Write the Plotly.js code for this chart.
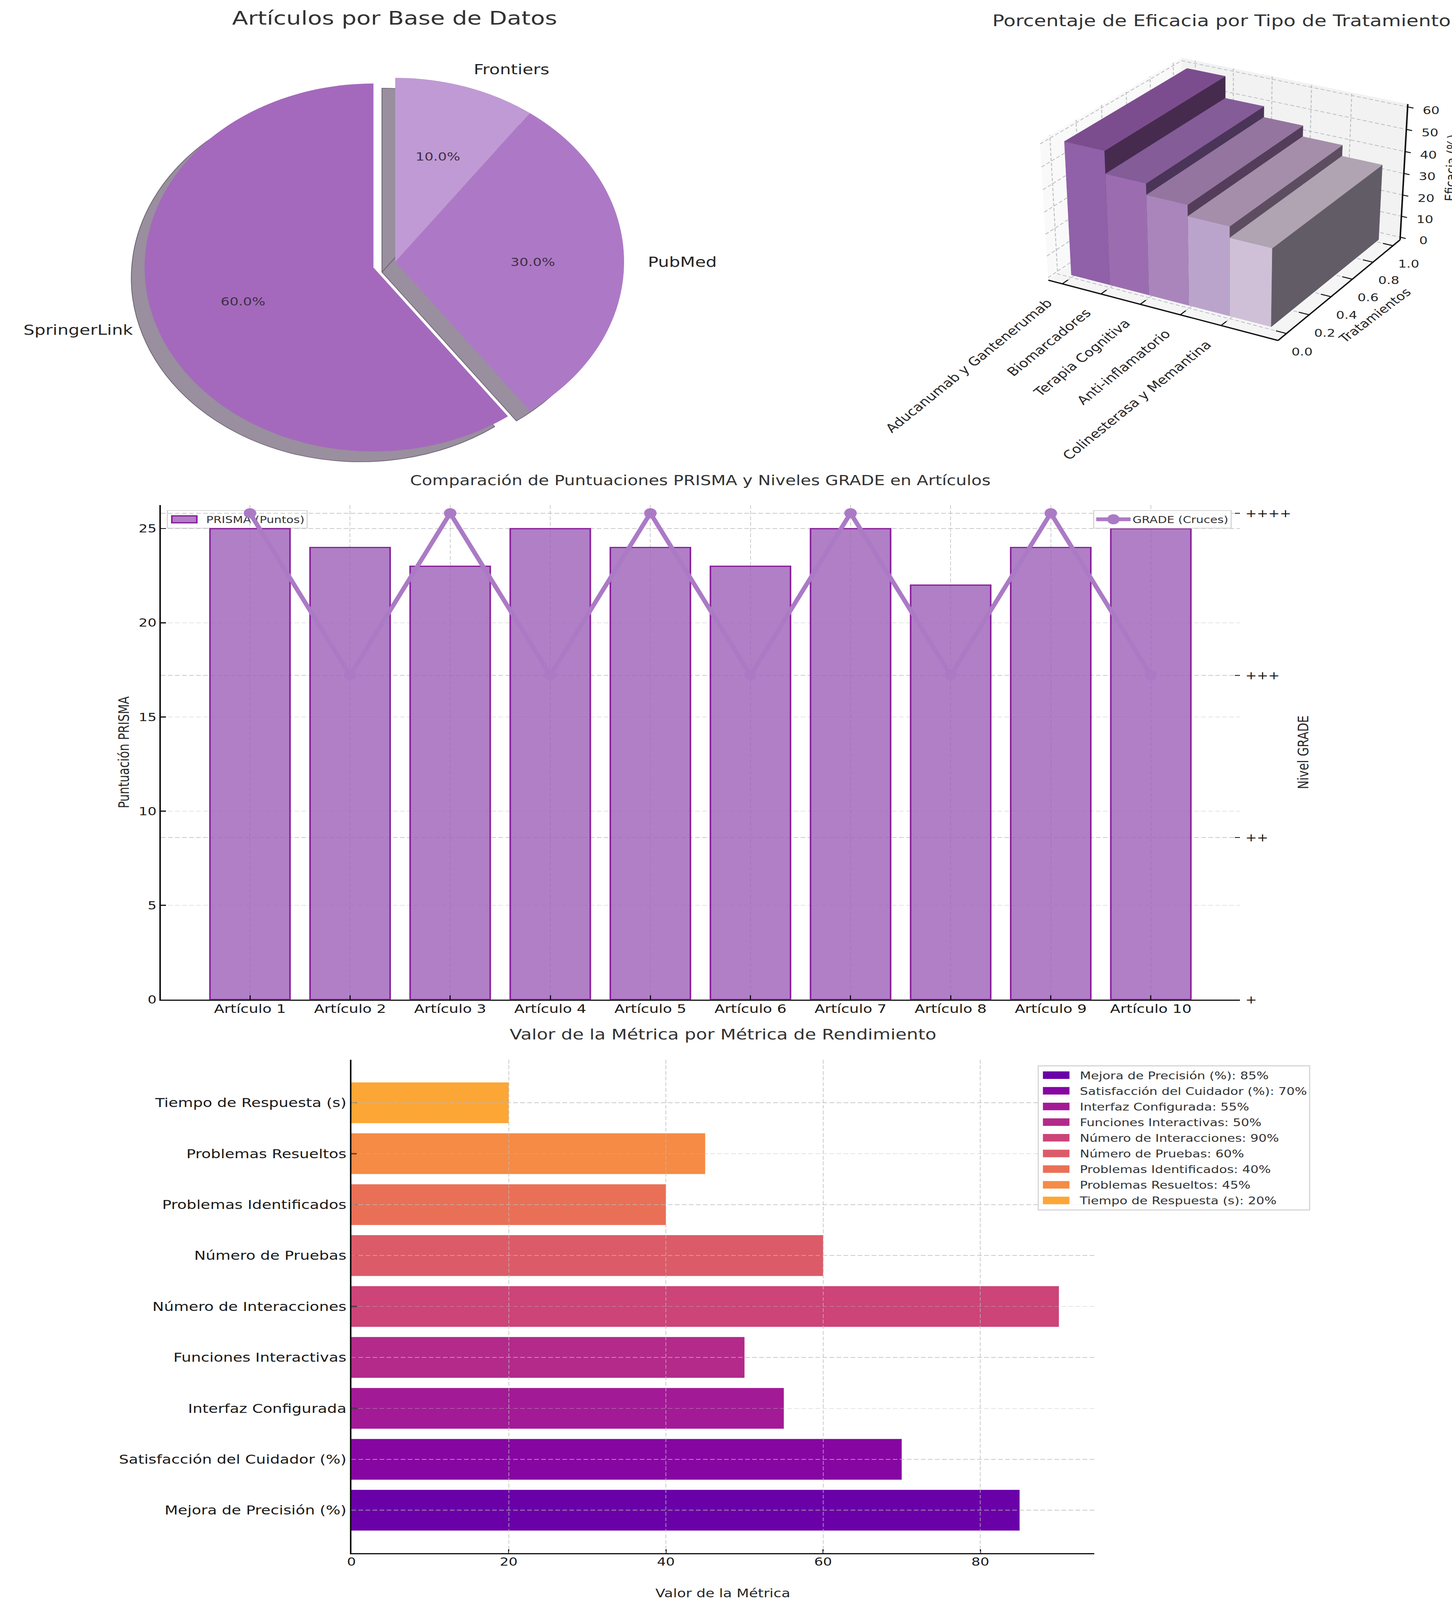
<!DOCTYPE html>
<html><head><meta charset="utf-8">
<script src="https://cdn.plot.ly/plotly-3.0.1.min.js"></script>
<style>html,body{margin:0;padding:0;background:#fff;overflow:hidden}</style>
</head><body><div id="chart" style="width:3718px;height:5097px;transform-origin:0 0"></div>
<script>
const W=3718,H=5097;
const FONT='DejaVu Sans';
// the whole figure must fit the window that is really available
document.getElementById('chart').style.transform='scaleY('+Math.min(1,window.innerHeight/H)+')';
// ---- data
const baseLabels=['SpringerLink','PubMed','Frontiers'];
const baseValues=[60,30,10];
const basePull=[0.1,0,0];
const baseColors=['#a469bc','#ad79c6','#c09ad4'];
const tratamientos=['Aducanumab y Gantenerumab','Biomarcadores','Terapia Cognitiva','Anti-inflamatorio','Colinesterasa y Memantina'];
const eficacia=[60,50,45,40,35];
const frontColors=['#9060a8','#9b6db0','#a985bb','#bba4cc','#cfc0d8'];
const topColors=['#7b4d8e','#845c98','#94759f','#a48eaa','#b0a3b2'];
const sideColors=['#472b4e','#4a3458','#533d5a','#5c4e60','#625c66'];
const articulos=['Artículo 1','Artículo 2','Artículo 3','Artículo 4','Artículo 5','Artículo 6','Artículo 7','Artículo 8','Artículo 9','Artículo 10'];
const prisma=[25,24,23,25,24,23,25,22,24,25];
const grade=[4,3,4,3,4,3,4,3,4,3];
const gradeTicks=[1,2,3,4];
const gradeLabels=['+','++','+++','++++'];
const metricas=['Mejora de Precisión (%)','Satisfacción del Cuidador (%)','Interfaz Configurada','Funciones Interactivas','Número de Interacciones','Número de Pruebas','Problemas Identificados','Problemas Resueltos','Tiempo de Respuesta (s)'];
const valores=[85,70,55,50,90,60,40,45,20];
const metricColors=['#6a00a8','#8606a2','#a31a96','#b32a8a','#cc4478','#dc5b68','#e97056','#f58b45','#fca636'];

// ---- page geometry helpers
const xp=p=>p/W, yp=p=>1-p/H;
const dx=(a,b)=>[xp(a),xp(b)], dy=(top,bot)=>[yp(bot),yp(top)];
const GRID='rgba(185,185,185,0.75)', DASH='12px,6px';
const TXT='#262626';

// ---- pie
const PIE={cx:1012,cy:834,R:586,shx:-34,shy:33};
const half=PIE.R*(1+Math.max(...basePull));
const annotations=[];
function note(text,x,y,size,opt){annotations.push(Object.assign({text,x:xp(x),y:yp(y),xref:'paper',yref:'paper',showarrow:false,
  font:{family:FONT,size,color:TXT},xanchor:'center',yanchor:'middle'},opt||{}));}
const tot=baseValues.reduce((a,b)=>a+b,0);
let ang=90;
baseValues.forEach((v,i)=>{
  const sweep=v/tot*360, mid=(ang+sweep/2)*Math.PI/180; ang+=sweep;
  const c=Math.cos(mid), s=Math.sin(mid), off=basePull[i]*PIE.R;
  const ox=PIE.cx+off*c, oy=PIE.cy-off*s;
  note((v/tot*100).toFixed(1)+'%',ox+.6*PIE.R*c,oy-.6*PIE.R*s,36,{font:{family:FONT,size:36,color:'#3d3045'}});
  note(baseLabels[i],ox+1.1*PIE.R*c,oy-1.1*PIE.R*s,44.5,{xanchor:c>=0?'left':'right'});
});
const pieBase={type:'pie',labels:baseLabels,values:baseValues,pull:basePull,sort:false,direction:'counterclockwise',
  rotation:-baseValues[0]/tot*360,textinfo:'none',showlegend:false,hoverinfo:'label+percent'};
const traces=[
 Object.assign({},pieBase,{domain:{x:dx(PIE.cx+PIE.shx-half,PIE.cx+PIE.shx+half),y:dy(PIE.cy+PIE.shy-half,PIE.cy+PIE.shy+half)},
   marker:{colors:baseLabels.map(()=>'#998f9e'),line:{color:'#6d6373',width:2}}}),
 Object.assign({},pieBase,{domain:{x:dx(PIE.cx-half,PIE.cx+half),y:dy(PIE.cy-half,PIE.cy+half)},
   marker:{colors:baseColors,line:{width:0}}})
];

// ---- 3D bars: perspective view (elevation 30, azimuth -60) projected on to a hidden 2D subplot
const Xr=[-0.3646,5.3646],Yr=[-0.0729,1.0729],Zr=[-1.25,61.25];
const BOX=[1.1905,1.1905,0.8929], DIST=10;
const U=[.8660,.5,0],V=[-.25,.4330,.8660],E=[.4330,-.75,.5];
function proj(x,y,z){
  const p=[(x-Xr[0])/(Xr[1]-Xr[0])*BOX[0]-BOX[0]/2,(y-Yr[0])/(Yr[1]-Yr[0])*BOX[1]-BOX[1]/2,(z-Zr[0])/(Zr[1]-Zr[0])*BOX[2]-BOX[2]/2];
  const d=(a,b)=>a[0]*b[0]+a[1]*b[1]+a[2]*b[2];
  const depth=DIST-d(p,E);
  return [d(p,U)/depth,d(p,V)/depth];
}
const SC={ox:3143,oy:613,s:5660};
function lines3(segs,color,width,dash){
  const X=[],Y=[];
  segs.forEach(seg=>{seg.forEach(q=>{const r=proj(...q);X.push(r[0]);Y.push(r[1]);});X.push(null);Y.push(null);});
  traces.push({type:'scatter',mode:'lines',x:X,y:Y,xaxis:'x4',yaxis:'y4',showlegend:false,hoverinfo:'skip',line:{color,width,dash:dash||'solid'}});
}
function face3(pts,fill){
  const c=pts.concat([pts[0]]).map(q=>proj(...q));
  traces.push({type:'scatter',mode:'lines',x:c.map(r=>r[0]),y:c.map(r=>r[1]),xaxis:'x4',yaxis:'y4',fill:'toself',fillcolor:fill,
    line:{color:fill,width:1},showlegend:false,hoverinfo:'skip'});
}
const [X0,X1]=Xr,[Y0,Y1]=Yr,[Z0,Z1]=Zr;
face3([[X0,Y0,Z0],[X0,Y1,Z0],[X0,Y1,Z1],[X0,Y0,Z1]],'#f9f9f9');
face3([[X0,Y1,Z0],[X1,Y1,Z0],[X1,Y1,Z1],[X0,Y1,Z1]],'#f2f2f2');
face3([[X0,Y0,Z0],[X1,Y0,Z0],[X1,Y1,Z0],[X0,Y1,Z0]],'#f5f5f5');
const xTicks=[0,1,2,3,4], yTicks=[0,.2,.4,.6,.8,1], zTicks=[0,10,20,30,40,50,60];
const gridSegs=[];
xTicks.forEach(t=>gridSegs.push([[t,Y0,Z0],[t,Y1,Z0],[t,Y1,Z1]]));
yTicks.forEach(t=>gridSegs.push([[X1,t,Z0],[X0,t,Z0],[X0,t,Z1]]));
zTicks.forEach(t=>gridSegs.push([[X0,Y0,t],[X0,Y1,t],[X1,Y1,t]]));
lines3(gridSegs,'#bcc0c4',2.5,'10px,6px');
eficacia.forEach((z,i)=>{
  const a=i,b=i+1,y0=0,y1=1;
  face3([[a,y0,0],[b,y0,0],[b,y0,z],[a,y0,z]],frontColors[i]);
  face3([[b,y0,0],[b,y1,0],[b,y1,z],[b,y0,z]],sideColors[i]);
  face3([[a,y0,z],[b,y0,z],[b,y1,z],[a,y1,z]],topColors[i]);
});
lines3([[[X0,Y0,Z0],[X1,Y0,Z0]],[[X1,Y0,Z0],[X1,Y1,Z0]],[[X1,Y1,Z0],[X1,Y1,Z1]]],'#111',4);
const tickSegs=[];
xTicks.forEach(t=>tickSegs.push([[t,Y0,Z0],[t,Y0+.045,Z0]]));
yTicks.forEach(t=>tickSegs.push([[X1,t,Z0],[X1-.25,t,Z0]]));
zTicks.forEach(t=>tickSegs.push([[X1,Y1,t],[X1+.14,Y1,t]]));
lines3(tickSegs,'#111',3);
function anno3(text,q,xs,ys,size,opt){const r=proj(...q);annotations.push(Object.assign({text,x:r[0],y:r[1],xref:'x4',yref:'y4',showarrow:false,xshift:xs,yshift:ys,
   font:{family:FONT,size,color:TXT},xanchor:'center',yanchor:'middle'},opt||{}));}
tratamientos.forEach((t,i)=>anno3(t,[i,Y0,Z0],-14,-36,38,{textangle:-45,xanchor:'right',yanchor:'top'}));
zTicks.forEach(t=>anno3(String(t),[X1,Y1,t],60,-10,34));
yTicks.forEach(t=>anno3(t.toFixed(1),[X1,t,Z0],40,-58,34));

// ---- chart 2
traces.push({type:'bar',x:articulos,y:prisma,xaxis:'x',yaxis:'y',name:'PRISMA (Puntos)',width:.8,legend:'legend',
  marker:{color:'rgba(156,95,184,.8)',line:{color:'#8a1f9c',width:4}}});
traces.push({type:'scatter',mode:'lines+markers',x:articulos,y:grade,xaxis:'x',yaxis:'y2',name:'GRADE (Cruces)',legend:'legend2',
  line:{color:'#ab7ac5',width:12},marker:{color:'#ab7ac5',size:32}});

// ---- chart 3
metricas.forEach((m,i)=>traces.push({type:'bar',orientation:'h',y:[m],x:[valores[i]],xaxis:'x3',yaxis:'y3',width:.8,legendgroup:'g'+i,
  name:m+': '+valores[i]+'%',legend:'legend3',marker:{color:metricColors[i]}}));

// ---- titles
note('Artículos por Base de Datos',1010,58,60,{font:{family:FONT,size:60,color:'#333'}});
note('Porcentaje de Eficacia por Tipo de Tratamiento',3128,66,50.4,{font:{family:FONT,size:50.4,color:'#333'}});
note('Comparación de Puntuaciones PRISMA y Niveles GRADE en Artículos',1793,1531,43.4,{font:{family:FONT,size:43.4,color:'#333'}});
note('Valor de la Métrica por Métrica de Rendimiento',1851,3295,46.4,{font:{family:FONT,size:46.4,color:'#333'}});
note('Eficacia (%)',3716,535,36,{textangle:-88});
note('Tratamientos',3521,1005,36,{textangle:-43});

const tickF=s=>({family:FONT,size:s,color:'#1a1a1a'});
const common={showline:true,linecolor:'#111',linewidth:4,ticks:'inside',ticklen:13,tickwidth:3,tickcolor:'#111',
  showgrid:true,gridcolor:GRID,gridwidth:2,griddash:DASH,zeroline:false,ticklabelstandoff:0};
const legendBox={bgcolor:'rgba(255,255,255,.85)',bordercolor:'#d6d6d6',borderwidth:3,xanchor:'left',yanchor:'top',itemclick:false,itemdoubleclick:false,traceorder:'normal'};
const hidden={visible:false,fixedrange:true,showgrid:false,zeroline:false};
const layout={width:W,height:H,margin:{l:0,r:0,t:0,b:0,pad:0},autosize:false,paper_bgcolor:'#fff',plot_bgcolor:'rgba(0,0,0,0)',
  font:{family:FONT,color:TXT},barmode:'overlay',showlegend:true,annotations,
  xaxis4:Object.assign({},hidden,{domain:dx(2500,3718),anchor:'y4',range:[(2500-SC.ox)/SC.s,(3718-SC.ox)/SC.s]}),
  yaxis4:Object.assign({},hidden,{domain:dy(0,1300),anchor:'x4',range:[(SC.oy-1300)/SC.s,SC.oy/SC.s]}),
  xaxis:Object.assign({},common,{domain:dx(412,3175),anchor:'y',type:'category',range:[-.89,9.89],tickfont:tickF(38.5),ticklabelstandoff:-8}),
  yaxis:Object.assign({},common,{domain:dy(1609,3184),anchor:'x',range:[0,26.25],tickvals:[0,5,10,15,20,25],tickfont:tickF(36),
    title:{text:'Puntuación PRISMA',font:{family:FONT,size:37,color:TXT},standoff:14}}),
  yaxis2:Object.assign({},common,{showline:false,overlaying:'y',side:'right',anchor:'x',range:[1,4.05],tickvals:gradeTicks,ticktext:gradeLabels,
    tickfont:tickF(35),ticklabelstandoff:13,title:{text:'Nivel GRADE',font:{family:FONT,size:37,color:TXT},standoff:18}}),
  xaxis3:Object.assign({},common,{domain:dx(900,2802),anchor:'y3',range:[0,94.5],tickvals:[0,20,40,60,80],tickfont:tickF(36),ticklabelstandoff:-8,
    title:{text:'Valor de la Métrica',font:{family:FONT,size:37,color:TXT},standoff:79}}),
  yaxis3:Object.assign({},common,{domain:dy(3376,4948),anchor:'x3',type:'category',categoryorder:'array',categoryarray:metricas,range:[-.844,8.844],tickfont:tickF(39.5),ticklabelstandoff:1}),
  legend:Object.assign({},legendBox,{x:xp(427),y:yp(1625),font:{family:FONT,size:30.5,color:'#333'},itemwidth:88}),
  legend2:Object.assign({},legendBox,{x:xp(2799),y:yp(1625),font:{family:FONT,size:30.5,color:'#333'},itemwidth:88}),
  legend3:Object.assign({},legendBox,{traceorder:'grouped',x:xp(2657),y:yp(3394),font:{family:FONT,size:33,color:'#333'},itemwidth:95,tracegroupgap:4})
};
Plotly.newPlot('chart',traces,layout,{displayModeBar:false}).then(gd=>{
  // enlarge the legend swatches to the reference proportions
  const leg=document.querySelector('g.legend'), cart=document.querySelector('.cartesianlayer');
  document.querySelectorAll('g.legendpoints path').forEach(p=>{
    if(p.classList.contains('legendbar')||(p.getAttribute('d')||'').startsWith('M6,6')){
      p.setAttribute('d',leg&&leg.contains(p)?'M25,11H-39V-11H25Z':'M26,12H-42V-12H26Z');
    }
    if(p.classList.contains('scatterpts')){p.setAttribute('d','M16,0A16,16 0 1,1 0,-16A16,16 0 0,1 16,0Z');}
  });
  document.querySelectorAll('g.legendlines path').forEach(p=>{p.style.strokeWidth='12px';});
  // PRISMA legend sits beneath the GRADE line
  if(leg&&cart) cart.parentNode.insertBefore(leg,cart);
  // grid of the lower chart is drawn over its bars
  const sub=document.querySelector('.subplot.x3y3');
  if(sub){const g=sub.querySelector('.gridlayer'); if(g) sub.appendChild(g);}
});
</script></body></html>
